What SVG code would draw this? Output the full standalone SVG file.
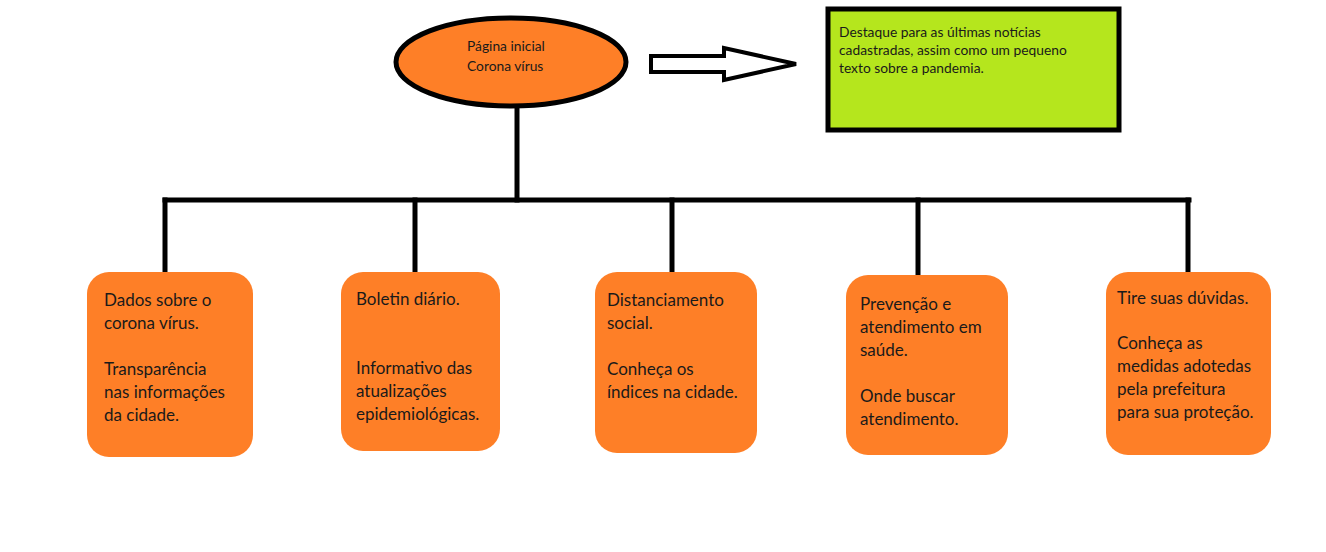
<svg xmlns="http://www.w3.org/2000/svg" width="1326" height="552" viewBox="0 0 1326 552">
<style>
.box{fill:#fe7f27;stroke:none}
.t{font-family:Lato,"Open Sans","Noto Sans",sans-serif;font-size:17px;fill:#1a1a1a}
.s{font-family:Lato,"Open Sans","Noto Sans",sans-serif;font-size:13.8px;fill:#1a1a1a}
.ln{stroke:#000;stroke-width:5;fill:none;stroke-linecap:square}
</style>
<rect width="1326" height="552" fill="#fff"/>
<g id="connectors">
<line class="ln" x1="517" y1="106" x2="517" y2="200"/>
<line class="ln" x1="165" y1="200" x2="1189" y2="200"/>
<line class="ln" x1="165" y1="200" x2="165" y2="271"/>
<line class="ln" x1="415" y1="200" x2="415" y2="271"/>
<line class="ln" x1="672" y1="200" x2="672" y2="271"/>
<line class="ln" x1="918" y1="200" x2="918" y2="273"/>
<line class="ln" x1="1188" y1="200" x2="1188" y2="271"/>
</g>
<g id="home">
<ellipse cx="511" cy="62" rx="115" ry="44" fill="#fe7f27" stroke="#000" stroke-width="5"/>
<text class="s" x="467" y="51">Página inicial</text>
<text class="s" x="467" y="71">Corona vírus</text>
</g>
<g id="arrow">
<polygon points="651,56 724,56 724,48 796,64 724,80 724,72 651,72" fill="#fff" stroke="#000" stroke-width="4" stroke-linejoin="miter"/>
</g>
<g id="highlight">
<rect x="828" y="9" width="291" height="121" fill="#b5e61d" stroke="#000" stroke-width="5"/>
<text class="s" x="839" y="37">Destaque para as últimas notícias</text>
<text class="s" x="839" y="55">cadastradas, assim como um pequeno</text>
<text class="s" x="839" y="73">texto sobre a pandemia.</text>
</g>
<g id="n1">
<rect class="box" x="87" y="272" width="166" height="185" rx="22"/>
<text class="t" x="104" y="306">Dados sobre o</text>
<text class="t" x="104" y="329">corona vírus.</text>
<text class="t" x="104" y="375">Transparência</text>
<text class="t" x="104" y="398">nas informações</text>
<text class="t" x="104" y="421">da cidade.</text>
</g>
<g id="n2">
<rect class="box" x="341" y="272" width="159" height="179" rx="22"/>
<text class="t" x="356" y="305">Boletin diário.</text>
<text class="t" x="356" y="374">Informativo das</text>
<text class="t" x="356" y="397">atualizações</text>
<text class="t" x="356" y="420">epidemiológicas.</text>
</g>
<g id="n3">
<rect class="box" x="595" y="272" width="162" height="181" rx="22"/>
<text class="t" x="607" y="306">Distanciamento</text>
<text class="t" x="607" y="329">social.</text>
<text class="t" x="607" y="375">Conheça os</text>
<text class="t" x="607" y="398">índices na cidade.</text>
</g>
<g id="n4">
<rect class="box" x="846" y="275" width="162" height="180" rx="22"/>
<text class="t" x="860" y="310">Prevenção e</text>
<text class="t" x="860" y="333">atendimento em</text>
<text class="t" x="860" y="356">saúde.</text>
<text class="t" x="860" y="402">Onde buscar</text>
<text class="t" x="860" y="425">atendimento.</text>
</g>
<g id="n5">
<rect class="box" x="1106" y="272" width="165" height="183" rx="22"/>
<text class="t" x="1117" y="304">Tire suas dúvidas.</text>
<text class="t" x="1117" y="349">Conheça as</text>
<text class="t" x="1117" y="372">medidas adotedas</text>
<text class="t" x="1117" y="395">pela prefeitura</text>
<text class="t" x="1117" y="418">para sua proteção.</text>
</g>
</svg>
